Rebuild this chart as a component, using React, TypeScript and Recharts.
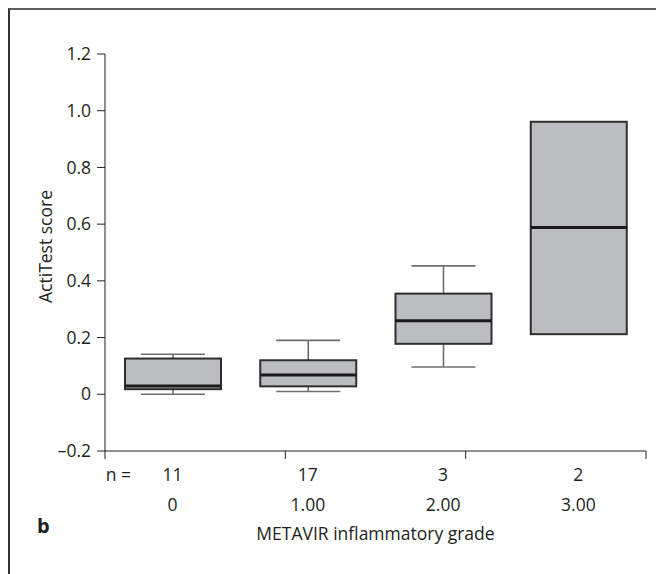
import React from 'react';
import { ComposedChart, Bar, XAxis, YAxis, Label } from 'recharts';

// METAVIR inflammatory grade vs ActiTest score (box plots)
const grades = ['0', '1.00', '2.00', '3.00'];
const nCounts = [11, 17, 3, 2];
const whiskerLow = [0.0, 0.01, 0.096, 0.212];
const quart1 = [0.018, 0.028, 0.178, 0.212];
const medians = [0.029, 0.068, 0.259, 0.588];
const quart3 = [0.126, 0.12, 0.355, 0.961];
const whiskerHigh = [0.141, 0.19, 0.453, 0.961];
const yTicks = [-0.2, 0, 0.2, 0.4, 0.6, 0.8, 1.0, 1.2];
const edgeTicks = [0, 1, 2, 3, 4];

const data = grades.map((g, i) => ({
  grade: g,
  n: nCounts[i],
  lo: whiskerLow[i],
  q1: quart1[i],
  med: medians[i],
  q3: quart3[i],
  hi: whiskerHigh[i],
}));

const ink = '#231f20';
const boxFill = '#bcbdc0';
const font = '"Open Sans", sans-serif';
const fs = 17.5;

const BoxShape = (props: any) => {
  const { x, y, width, height, payload } = props;
  const top = Math.min(y, y + height);
  const h = Math.abs(height);
  const { lo, q1, med, q3, hi } = payload;
  const span = hi - lo || 1;
  const py = (v: number) => top + ((hi - v) / span) * h;
  const cx = x + width / 2;
  const cap = width / 3;
  return (
    <g>
      {hi > q3 && (
        <>
          <line x1={cx} x2={cx} y1={py(hi)} y2={py(q3)} stroke="#6e6e6e" strokeWidth={1.6} />
          <line x1={cx - cap} x2={cx + cap} y1={py(hi)} y2={py(hi)} stroke="#6e6e6e" strokeWidth={1.6} />
        </>
      )}
      {lo < q1 && (
        <>
          <line x1={cx} x2={cx} y1={py(q1)} y2={py(lo)} stroke="#6e6e6e" strokeWidth={1.6} />
          <line x1={cx - cap} x2={cx + cap} y1={py(lo)} y2={py(lo)} stroke="#6e6e6e" strokeWidth={1.6} />
        </>
      )}
      <rect x={x} y={py(q3)} width={width} height={py(q1) - py(q3)} fill={boxFill} stroke="#2e2e2e" strokeWidth={2} />
      <line x1={x} x2={x + width} y1={py(med)} y2={py(med)} stroke="#1a1a1a" strokeWidth={3} />
    </g>
  );
};

const GradeTick = (props: any) => {
  const { x, y, payload, index } = props;
  const row = data[index];
  return (
    <g fontFamily={font} fontSize={fs} fill={ink}>
      {index === 0 && (
        <text x={x - 67} y={y + 27} textAnchor="start" fill={ink}>n =</text>
      )}
      <text x={x} y={y + 27} textAnchor="middle" fill={ink}>{row ? row.n : ''}</text>
      <text x={x} y={y + 57} textAnchor="middle" fill={ink}>{payload.value}</text>
    </g>
  );
};

const fmtY = (v: number) => {
  if (v === 0) return '0';
  if (v < 0) return '–' + Math.abs(v).toFixed(1);
  return v.toFixed(1);
};

export default function App() {
  return (
    <div
      style={{
        position: 'relative',
        width: 654,
        height: 564,
        borderTop: '2px solid #5e5e5e',
        borderLeft: '2px solid #333',
        fontFamily: font,
      }}
    >
      <ComposedChart
        width={654}
        height={564}
        data={data}
        margin={{ top: 44, right: 18, bottom: 10, left: 0 }}
        barCategoryGap={0}
      >
        <XAxis
          xAxisId="axisA"
          type="number"
          domain={[0, 4]}
          ticks={edgeTicks}
          tickFormatter={() => ''}
          tickSize={8}
          height={1}
          stroke={ink}
          tickLine={{ stroke: ink }}
          allowDataOverflow
        />
        <XAxis
          xAxisId="axisB"
          dataKey="grade"
          axisLine={false}
          tickLine={false}
          tickSize={0}
          interval={0}
          height={112}
          tick={<GradeTick />}
        >
          <Label
            content={({ viewBox }: any) => (
              <text
                x={viewBox.x + viewBox.width / 2}
                y={viewBox.y + 88}
                textAnchor="middle"
                fontFamily={font}
                fontSize={fs}
                fill={ink}
              >
                METAVIR inflammatory grade
              </text>
            )}
          />
        </XAxis>
        <YAxis
          domain={[-0.2, 1.2]}
          ticks={yTicks}
          tickFormatter={fmtY}
          tickSize={8}
          tickMargin={6}
          width={95}
          stroke={ink}
          tick={{ fill: ink, fontSize: fs, fontFamily: font }}
          allowDataOverflow
        >
          <Label
            content={({ viewBox }: any) => {
              const cx = viewBox.x + 35;
              const cy = viewBox.y + viewBox.height / 2 - 6;
              return (
                <text
                  x={cx}
                  y={cy}
                  transform={`rotate(-90 ${cx} ${cy})`}
                  textAnchor="middle"
                  dominantBaseline="central"
                  fontFamily={font}
                  fontSize={fs}
                  fill={ink}
                >
                  ActiTest score
                </text>
              );
            }}
          />
        </YAxis>
        <Bar
          xAxisId="axisB"
          dataKey={(d: any) => [d.lo, d.hi]}
          barSize={96}
          shape={<BoxShape />}
          isAnimationActive={false}
        />
      </ComposedChart>
      <span
        style={{
          position: 'absolute',
          left: 27,
          top: 502,
          fontSize: 20,
          fontWeight: 700,
          color: ink,
          fontFamily: font,
        }}
      >
        b
      </span>
    </div>
  );
}
